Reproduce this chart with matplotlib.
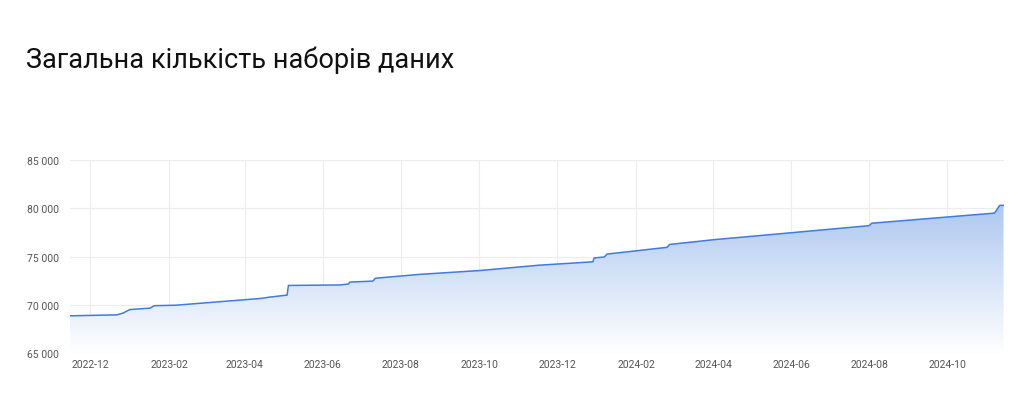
import matplotlib
matplotlib.use("Agg")
import matplotlib.pyplot as plt
import matplotlib.dates as mdates
import numpy as np
import pandas as pd
from matplotlib.colors import LinearSegmentedColormap

dates = ["2022-11-15", "2022-12-22", "2022-12-27", "2023-01-01", "2023-01-17", "2023-01-20",
         "2023-02-06", "2023-04-13", "2023-04-21", "2023-05-04", "2023-05-05", "2023-06-14",
         "2023-06-21", "2023-06-22", "2023-07-10", "2023-07-12", "2023-08-16", "2023-10-02",
         "2023-11-17", "2023-12-29", "2023-12-30", "2024-01-07", "2024-01-09", "2024-02-25",
         "2024-02-27", "2024-04-02", "2024-05-31", "2024-08-01", "2024-08-03", "2024-11-07",
         "2024-11-11", "2024-11-14"]
values = [68850, 68950, 69150, 69500, 69650, 69900,
          69950, 70650, 70800, 71000, 72000, 72050,
          72150, 72350, 72450, 72750, 73150, 73550,
          74100, 74450, 74850, 74950, 75250, 75950,
          76250, 76750, 77450, 78200, 78450, 79500,
          80300, 80300]
y_ticks = [65000, 70000, 75000, 80000, 85000]
y_labels = ["65 000", "70 000", "75 000", "80 000", "85 000"]
title = "Загальна кількість наборів даних"

x = pd.to_datetime(dates)
xn = mdates.date2num(x)

plt.rcParams['font.family'] = ['Roboto', 'DejaVu Sans']
fig = plt.figure(figsize=(10.24, 4.14), dpi=100)
ax = fig.add_axes([0.068, 0.145, 0.912, 0.466])
fig.text(0.025, 0.855, title, fontsize=19.5, color="#111111", fontweight="normal", va="center")

ax.set_xlim(xn[0], xn[-1])
ax.set_ylim(65000, 85000)

cmap = LinearSegmentedColormap.from_list("g", ["#ffffff", "#adc8f0"])
grad = np.linspace(0, 1, 256).reshape(-1, 1)
im = ax.imshow(grad, cmap=cmap, aspect="auto", origin="lower",
               extent=[xn[0], xn[-1], 65000, max(values)], zorder=1)
poly = ax.fill_between(xn, values, 65000, color="none", zorder=1)
im.set_clip_path(poly.get_paths()[0], transform=ax.transData)
ax.plot(xn, values, color="#3f7be0", lw=1.1, zorder=3)

ax.set_yticks(y_ticks)
ax.set_yticklabels(y_labels)
ax.xaxis.set_major_locator(mdates.MonthLocator(bymonth=[2, 4, 6, 8, 10, 12]))
ax.xaxis.set_major_formatter(mdates.DateFormatter("%Y-%m"))
ax.grid(True, color="#ececec", lw=0.8, zorder=0)
ax.set_axisbelow(True)
for s in ax.spines.values():
    s.set_visible(False)
ax.tick_params(length=0, labelsize=7.5, colors="#555555", pad=4)
ax.tick_params(axis="y", pad=8)

fig.savefig("out.png", dpi=100, facecolor="white")
